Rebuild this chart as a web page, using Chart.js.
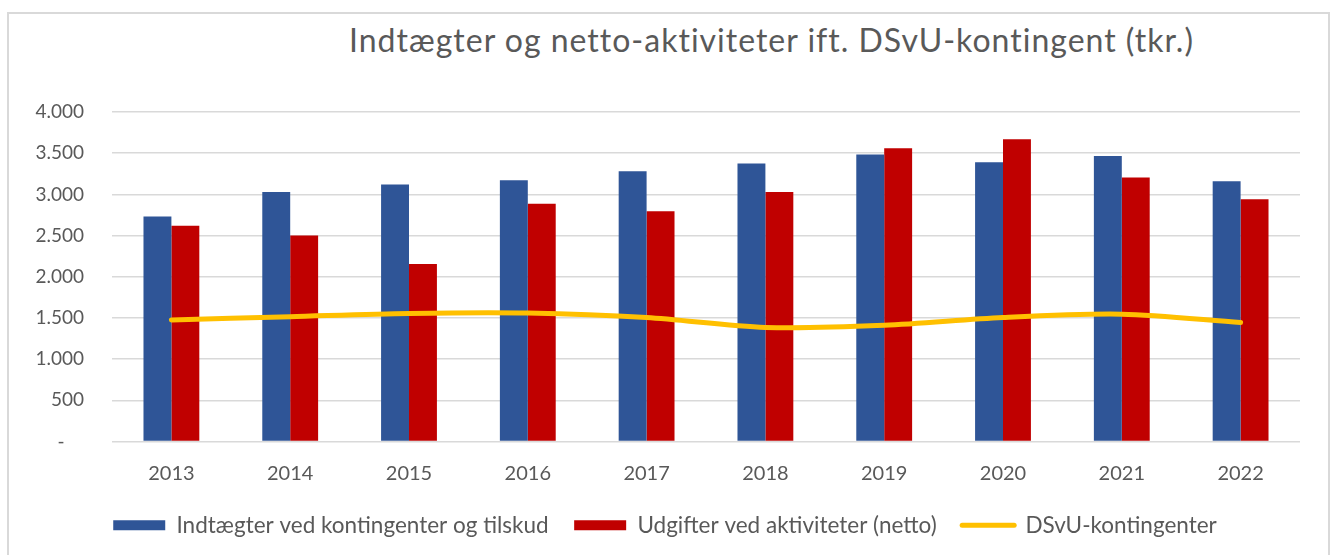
<!DOCTYPE html>
<html>
<head>
<meta charset="utf-8">
<script src="https://cdn.jsdelivr.net/npm/chart.js@4.4.1/dist/chart.umd.min.js"></script>
<style>
  html, body { margin: 0; padding: 0; background: #fff; }
  #wrap { position: relative; width: 1331px; height: 555px; overflow: hidden; }
  #frame { position: absolute; left: 7px; top: 12px; width: 1323px; height: 560px;
           border: 2px solid #d9d9d9; border-bottom: none; box-sizing: border-box; }
  #title { position: absolute; left: 349px; top: 21px; font-family: Lato, sans-serif;
           font-size: 32px; letter-spacing: 1px; line-height: 38px; color: #595959; white-space: nowrap; }
  canvas { position: absolute; left: 0; top: 0; }
</style>
</head>
<body>
<div id="wrap">
  <div id="frame"></div>
  <div id="title">Indtægter og netto-aktiviteter ift. DSvU-kontingent (tkr.)</div>
  <canvas id="chart" width="1331" height="555"></canvas>
</div>
<script>
const years = ['2013', '2014', '2015', '2016', '2017', '2018', '2019', '2020', '2021', '2022'];
const indtaegter = [2730, 3030, 3120, 3170, 3280, 3375, 3485, 3390, 3465, 3160];
const udgifter = [2620, 2500, 2155, 2885, 2795, 3030, 3560, 3670, 3205, 2940];
const kontingenter = [1475, 1515, 1555, 1560, 1505, 1385, 1410, 1505, 1545, 1445];
const yTicks = [0, 500, 1000, 1500, 2000, 2500, 3000, 3500, 4000];
const yTickLabels = ['-    ', '500', '1.000', '1.500', '2.000', '2.500', '3.000', '3.500', '4.000'];

const textFont = 'Lato, sans-serif';
const grey = '#595959';

const ctx = document.getElementById('chart').getContext('2d');
new Chart(ctx, {
    type: 'bar',
    data: {
        labels: years,
        datasets: [
            {
                label: 'Indtægter ved kontingenter og tilskud',
                data: indtaegter,
                backgroundColor: '#2F5597',
                categoryPercentage: 0.47,
                barPercentage: 1.0,
                order: 2
            },
            {
                label: 'Udgifter ved aktiviteter (netto)',
                data: udgifter,
                backgroundColor: '#C00000',
                categoryPercentage: 0.47,
                barPercentage: 1.0,
                order: 2
            },
            {
                type: 'line',
                label: 'DSvU-kontingenter',
                data: kontingenter,
                borderColor: '#FFC000',
                backgroundColor: '#FFC000',
                borderWidth: 5,
                borderCapStyle: 'round',
                pointRadius: 0,
                tension: 0.3,
                order: 1
            }
        ]
    },
    options: {
        responsive: false,
        animation: false,
        layout: {
            padding: { left: 30, right: 31, top: 112, bottom: 8.5 }
        },
        scales: {
            x: {
                afterFit: function (scale) {
                    scale.height = 47;
                },
                grid: { display: false },
                border: { display: false },
                ticks: {
                    color: grey,
                    font: { family: textFont, size: 20 },
                    padding: 12
                }
            },
            y: {
                min: 0,
                max: 4000,
                afterBuildTicks: function (scale) {
                    scale.ticks = yTicks.map(v => ({ value: v }));
                },
                afterFit: function (scale) {
                    scale.width = 82;
                },
                grid: { color: '#d9d9d9', lineWidth: 1.5, drawTicks: false },
                border: { display: false },
                ticks: {
                    color: grey,
                    font: { family: textFont, size: 19 },
                    padding: 28,
                    callback: function (value) {
                        const i = yTicks.indexOf(value);
                        return i >= 0 ? yTickLabels[i] : '';
                    }
                }
            }
        },
        plugins: {
            legend: {
                position: 'bottom',
                labels: {
                    color: grey,
                    font: { family: textFont, size: 22.5 },
                    usePointStyle: true,
                    pointStyleWidth: 52,
                    boxHeight: 10,
                    padding: 25.5,
                    sort: (a, b) => a.datasetIndex - b.datasetIndex,
                    generateLabels: function (chart) {
                        const items = Chart.defaults.plugins.legend.labels.generateLabels(chart);
                        items.forEach(function (item) {
                            if (item.datasetIndex === 2) {
                                item.pointStyle = 'line';
                                item.lineWidth = 5;
                                item.strokeStyle = '#FFC000';
                                item.lineCap = 'round';
                            } else {
                                item.pointStyle = 'rect';
                                item.lineWidth = 0;
                            }
                        });
                        return items;
                    }
                }
            },
            tooltip: { enabled: false }
        }
    }
});
</script>
</body>
</html>
